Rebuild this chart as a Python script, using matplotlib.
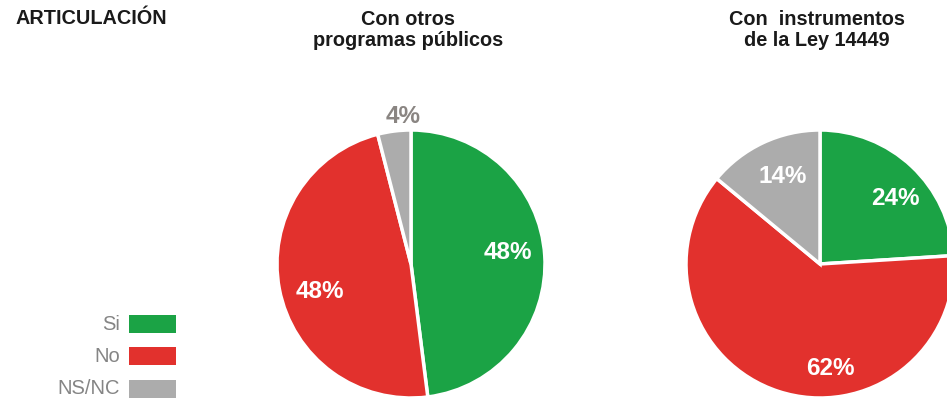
import matplotlib
matplotlib.use("Agg")
import matplotlib.pyplot as plt
from matplotlib.patches import Rectangle
import numpy as np

plt.rcParams['font.family'] = ['Liberation Sans', 'DejaVu Sans']

# Data
categories = ["Si", "No", "NS/NC"]
titles = ["Con otros\nprogramas públicos", "Con  instrumentos\nde la Ley 14449"]
otros_programas = [48, 48, 4]
ley_14449 = [24, 62, 14]
colors = ["#1ba345", "#e2312d", "#acacac"]

W, H = 947, 403
fig = plt.figure(figsize=(W / 100, H / 100), dpi=100)
ax = fig.add_axes([0, 0, 1, 1])

R = 134
centers = [(411, H - 264), (820, H - 264)]
series = [otros_programas, ley_14449]

# label placement: (angle in degrees, distance as fraction of radius, colour)
label_layout = [
    [(6.5, 0.73, "white"), (197, 0.71, "white"), (93, 1.10, "#8a8582")],
    [(41, 0.75, "white"), (-84.5, 0.78, "white"), (113, 0.71, "white")],
]

for vals, c, lay, title in zip(series, centers, label_layout, titles):
    ax.pie(vals, colors=colors, startangle=90, counterclock=False,
           center=c, radius=R,
           wedgeprops=dict(edgecolor="white", linewidth=2.5))
    for v, (ang, dist, col) in zip(vals, lay):
        a = np.deg2rad(ang)
        ax.text(c[0] + dist * R * np.cos(a), c[1] + dist * R * np.sin(a),
                f"{v}%", ha="center", va="center", color=col,
                fontsize=17.5, fontweight="bold")
    ax.text(c[0] - 3, H - 30, title, ha="center", va="center",
            fontsize=14.3, fontweight="bold", color="#1a1a1a", linespacing=1.15)

ax.text(15, H - 19, "ARTICULACIÓN", ha="left", va="center",
        fontsize=14.3, fontweight="bold", color="#1a1a1a")

# Legend swatches
leg_y = [324, 356, 389]
for cat, col, y in zip(categories, colors, leg_y):
    ax.add_patch(Rectangle((129, H - y - 9), 47, 18, facecolor=col,
                           edgecolor="none"))
    ax.text(120, H - y, cat, ha="right", va="center", fontsize=14.5,
            color="#858585")

ax.set_xlim(0, W)
ax.set_ylim(0, H)
ax.set_aspect("auto")
ax.axis("off")

fig.savefig("out.png", dpi=100, facecolor="white")
